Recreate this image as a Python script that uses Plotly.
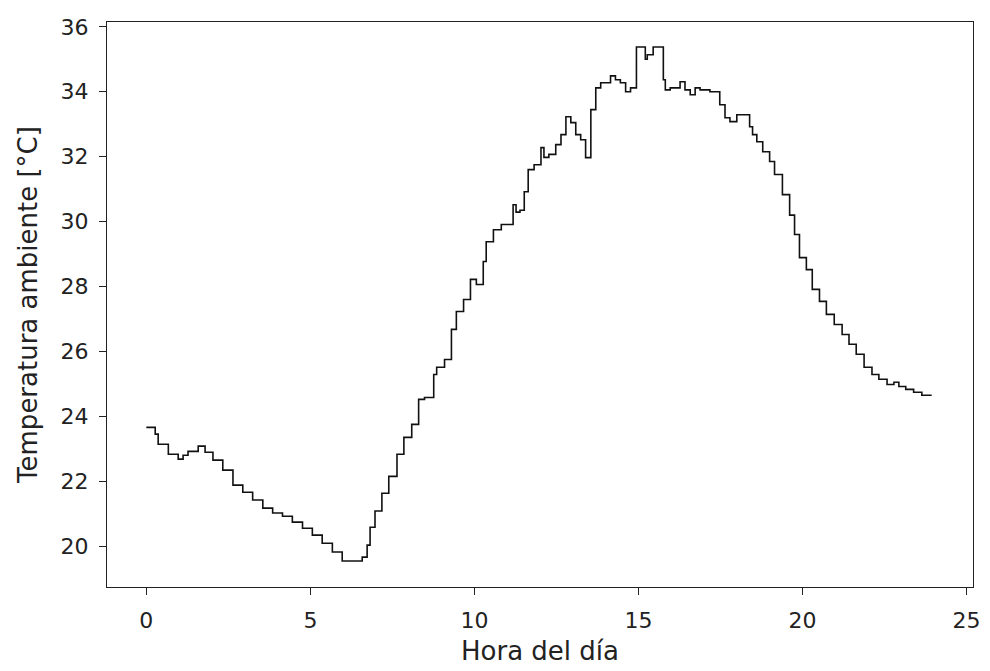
import plotly.graph_objects as go

hours = [0.00, 0.27, 0.36, 0.67, 0.97, 1.12, 1.27, 1.58, 1.79, 2.03, 2.33, 2.64, 2.94, 3.24,
         3.55, 3.85, 4.15, 4.45, 4.76, 5.06, 5.36, 5.67, 5.97, 6.27, 6.58, 6.73, 6.82, 6.97,
         7.18, 7.39, 7.64, 7.85, 8.09, 8.30, 8.48, 8.76, 8.85, 9.09, 9.30, 9.45, 9.67, 9.88,
         10.06, 10.27, 10.36, 10.58, 10.82, 11.03, 11.18, 11.27, 11.39, 11.52, 11.64, 11.82,
         12.03, 12.12, 12.27, 12.48, 12.64, 12.79, 12.94, 13.09, 13.24, 13.39, 13.55, 13.70,
         13.85, 14.15, 14.30, 14.45, 14.61, 14.76, 14.94, 15.06, 15.21, 15.27, 15.45, 15.61,
         15.76, 15.82, 15.97, 16.27, 16.42, 16.58, 16.73, 16.88, 17.18, 17.48, 17.64, 17.79,
         18.00, 18.12, 18.39, 18.48, 18.61, 18.79, 19.00, 19.15, 19.39, 19.61, 19.76, 19.91,
         20.12, 20.30, 20.52, 20.73, 20.97, 21.21, 21.42, 21.64, 21.88, 22.12, 22.33, 22.58,
         22.79, 22.94, 23.15, 23.39, 23.64, 23.94]

temperature = [23.66, 23.66, 23.45, 23.14, 22.83, 22.68, 22.80, 22.92, 23.08, 22.89, 22.65, 22.34,
               21.88, 21.66, 21.42, 21.17, 21.02, 20.92, 20.74, 20.55, 20.34, 20.09, 19.82, 19.54,
               19.54, 19.66, 20.03, 20.58, 21.08, 21.63, 22.15, 22.83, 23.35, 23.75, 24.52, 24.58,
               25.29, 25.51, 25.75, 26.68, 27.23, 27.60, 28.22, 28.06, 28.77, 29.38, 29.75, 29.91,
               29.91, 30.52, 30.29, 30.35, 30.92, 31.60, 31.75, 32.28, 31.98, 32.07, 32.37, 32.68,
               33.23, 33.05, 32.68, 32.52, 31.97, 33.45, 34.12, 34.28, 34.49, 34.37, 34.28, 34.00,
               34.12, 35.38, 35.38, 35.00, 35.14, 35.38, 35.38, 34.37, 34.06, 34.12, 34.31, 34.06,
               33.91, 34.12, 34.06, 34.00, 33.60, 33.20, 33.08, 33.29, 33.29, 32.92, 32.68, 32.46,
               32.15, 31.85, 31.45, 30.83, 30.20, 29.60, 28.89, 28.52, 27.91, 27.54, 27.14, 26.83,
               26.52, 26.22, 25.91, 25.51, 25.29, 25.14, 24.98, 25.05, 24.92, 24.83, 24.74, 24.65]

x_ticks = [0, 5, 10, 15, 20, 25]
y_ticks = [20, 22, 24, 26, 28, 30, 32, 34, 36]

fig = go.Figure()
fig.add_trace(go.Scatter(x=hours, y=temperature, mode="lines",
                         line=dict(color="#111111", width=1.6, shape="vh"),
                         showlegend=False))

font = dict(family="DejaVu Sans", size=22, color="#222222")
title_font = dict(family="DejaVu Sans", size=26, color="#222222")
axis_common = dict(showline=True, linecolor="#222222", linewidth=1.3, mirror=True,
                   ticks="outside", ticklen=7, tickwidth=1.3, tickcolor="#222222",
                   showgrid=False, zeroline=False, tickfont=font)

fig.update_layout(
    width=990, height=671,
    margin=dict(l=107, r=10, t=22, b=83),
    paper_bgcolor="white", plot_bgcolor="white",
    font=font,
    xaxis=dict(range=[-1.2, 25.2], tickvals=x_ticks, ticklabelstandoff=6,
               title=dict(text="Hora del día", font=title_font, standoff=10), **axis_common),
    yaxis=dict(range=[18.74, 36.15], tickvals=y_ticks, ticklabelstandoff=6,
               title=dict(text="Temperatura ambiente [°C]", font=title_font, standoff=15), **axis_common),
)

fig.write_html("out.html")
